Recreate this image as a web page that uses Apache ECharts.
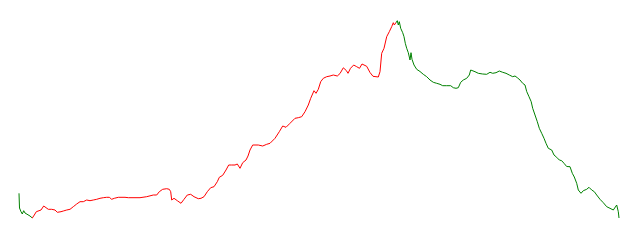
<!DOCTYPE html>
<html>
<head>
<meta charset="utf-8">
<script src="https://cdn.jsdelivr.net/npm/echarts@6/dist/echarts.min.js"></script>
<style>html,body{margin:0;padding:0;background:#fff}#main{width:640px;height:240px}</style>
</head>
<body>
<div id="main"></div>
<script>
var days = [0,0.5,2,3.3,4.7,6,7.7,11,13.3,15.3,17.3,19.3,22,24.7,26.7,29.3,32.7,36,38.3,40.3,42,44.3,47.7,51,54.3,57.7,61,64.3,67.7,71,74.3,77.7,81,84.3,87.7,90.3,92.7,95.3,99.3,106,109.3,121,127.7,134.3,137.7,140.3,143.7,147.7,150.3,151.7,152.7,155,158.3,162,165,168.3,171.7,175,177,179.3,182,185,188.3,191.7,195,198.3,200.3,203.7,207,209.7,212.7,216,218.3,221,223.7,227,229,231,233.7,239.3,243.7,247.7,251,256,260.3,263.7,267,268.3,271,276,279.3,282.7,286,289.3,291.7,295,297,299.3,301.7,304.3,307.7,311,314.3,316,318.3,321,324.3,327.3,329,331.5,334.7,337.7,340.5,343,345,347.7,351,354,356,359.3,361,362.7,365,367.7,370.3,372.7,374.3,375.3,376.3,377,378.3,379.3,380.3,381.7,383.7,385,386.3,387.7,389.3,391,392,393,395,397.7,401,404.3,407.7,411,414.3,417.7,421,423.7,427.7,431.7,434.3,437,439.3,441.7,444.3,447.7,450.3,451.7,453.7,456,459.3,463.7,467.7,471,473.7,477,480.3,483.7,487,490.3,493.7,496,498.3,501,503.7,506,507.7,510,512.2,513.7,516,518.3,520.3,522.7,525,527,529.3,532.7,535,537.7,540.3,542.7,545,547.7,549.3,551,553.3,555.3,557.7,559.3,562,564.3,567.7,570,572.7,575.3,577.7,581,584.3,587.7,591,594.3,596,597.7,598.7,599.3,600];
var values = [24.7,10,6.3,4,7.3,5,3,2,0,3,6.3,4.7,8,12,10.7,8.7,8.7,8,5.7,4.7,6.3,7,8,8.7,11.3,14,16.3,16.3,18,17.3,18,18.7,19.7,20.3,20.7,20.7,18.7,19.7,20.7,20.7,20.3,20.3,21.3,23,23,26.3,28.7,29.3,28.7,26.3,18,19.7,17.3,14.7,18.7,23,23.7,21.3,22,19.3,19.7,21.3,26.3,30.3,31.3,36.3,40.7,42.7,48,53,53,53,54,49.7,55.3,58,62,68,73,73,72,73.7,74.7,79.7,86.3,92,90.7,89,94.7,99.7,100.3,101.3,106.3,113,119.7,127.3,124.7,128.7,136.3,139.7,141.3,142,143,144,142,144.5,150.2,147.5,144.7,149.7,153,151.3,149.7,154,155.3,151.7,145.5,141.7,140.7,141,146.3,164.7,169.7,181.3,186.3,191.3,195.3,193,194.7,191.3,197.3,193,196.3,189.7,185.3,181.3,174.7,169.7,165.3,158,165.3,158.7,153,148.7,146.5,143.7,141.3,138,135.7,134.7,133.7,132.3,132.3,132.3,130.3,129.7,130.3,135.7,138,139.7,143,148,149,146.3,144.7,144,143.7,145.7,144.7,145.3,147,145.7,144.7,143,141.3,142,140.3,138,134.7,133,126.5,121.3,116.3,109.7,103,96.3,89.7,84.7,79.7,74.7,69.7,68,63,60.7,58,57.3,54.7,51.5,49.7,51.3,44.7,41,34.7,28,24.7,27.3,28.7,30.7,28,26.3,23,18.7,15.3,11.3,9.7,8,7.3,13,11.3,6.3,0];
var sectionBreaks = [13, 377.5];

var chart = echarts.init(document.getElementById('main'), null, {renderer: 'canvas'});
var seriesData = days.map(function (d, i) { return [d, values[i]]; });
chart.setOption({
  animation: false,
  grid: {left: 19, right: 21, top: 20, bottom: 22},
  xAxis: {type: 'value', min: 0, max: 600, show: false},
  yAxis: {type: 'value', min: 0, max: 198, show: false},
  visualMap: {
    show: false,
    dimension: 0,
    pieces: [
      {lt: sectionBreaks[0], color: 'green'},
      {gte: sectionBreaks[0], lt: sectionBreaks[1], color: 'red'},
      {gte: sectionBreaks[1], color: 'green'}
    ]
  },
  series: [{
    type: 'line',
    data: seriesData,
    showSymbol: false,
    symbol: 'none',
    clip: false,
    lineStyle: {width: 1}
  }]
});
</script>
</body>
</html>
